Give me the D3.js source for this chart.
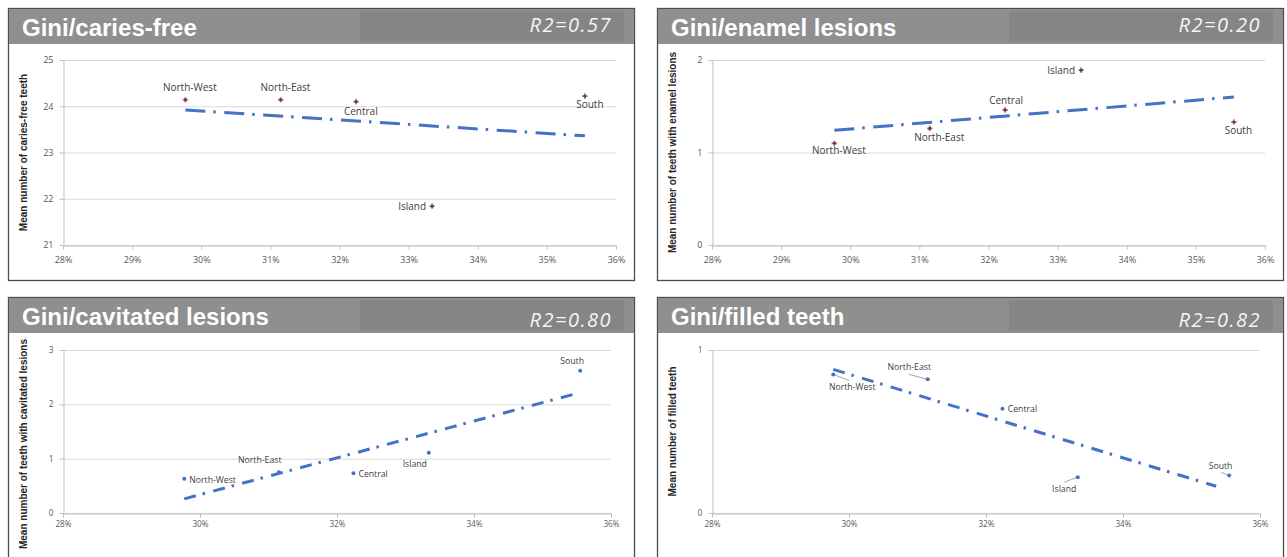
<!DOCTYPE html>
<html>
<head>
<meta charset="utf-8">
<script src="https://cdn.jsdelivr.net/npm/d3@7/dist/d3.min.js"></script>
<style>
  html, body { margin: 0; padding: 0; background: #ffffff; }
  svg { display: block; }
</style>
</head>
<body>
<svg id="chart" width="1287" height="557"></svg>
<script>
// ---------------- DATA ----------------
const regions = ["North-West", "North-East", "Central", "Island", "South"];
const gini = [29.77, 31.15, 32.24, 33.34, 35.55];            // Gini coefficient (%)
const cariesFree = [24.14, 24.14, 24.10, 21.84, 24.22];       // mean caries-free teeth
const enamelLesions = [1.10, 1.26, 1.46, 1.89, 1.33];         // mean teeth with enamel lesions
const cavitatedLesions = [0.63, 0.75, 0.73, 1.11, 2.62];      // mean teeth with cavitated lesions
const filledTeeth = [0.85, 0.82, 0.64, 0.22, 0.23];           // mean filled teeth

const titles = ["Gini/caries-free", "Gini/enamel lesions", "Gini/cavitated lesions", "Gini/filled teeth"];
const r2Labels = ["R2=0.57", "R2=0.20", "R2=0.80", "R2=0.82"];
const yTitles = ["Mean number of caries-free teeth", "Mean number of teeth with enamel lesions",
                 "Mean number of teeth with cavitated lesions", "Mean number of filled teeth"];

const xTicksTop = [28, 29, 30, 31, 32, 33, 34, 35, 36];
const xTicksBottom = [28, 30, 32, 34, 36];
const cariesTicks = [21, 22, 23, 24, 25];
const enamelTicks = [0, 1, 2];
const cavitatedTicks = [0, 1, 2, 3];
const filledTicks = [0, 1];

// linear trendline end points (x = Gini %, y = value)
const trendCariesX = [29.77, 35.55], trendCariesY = [23.92, 23.36];
const trendEnamelX = [29.77, 35.55], trendEnamelY = [1.24, 1.60];
const trendCavX = [29.77, 35.47], trendCavY = [0.26, 2.19];
const trendFilledX = [29.77, 35.36], trendFilledY = [0.881, 0.164];

// ---------------- LAYOUT / STYLE ----------------
const svg = d3.select("#chart");
const PW = 626, PH = 272;

const layTop = { x0: 55, x1: 608, y0: 52, y1: 237, tickFont: 9, labelFont: 10, tickPad: 7, dash: "20 8 2.5 8.5", r2Base: 24 };
const layBot = { x0: 55, x1: 603, y0: 53, y1: 216, tickFont: 8.2, labelFont: 8.7, tickPad: 4, dash: "12 7 2.5 8.5", r2Base: 30 };

const panels = [
  { ox: 8,   oy: 8,   L: layTop, values: cariesFree,       yTicks: cariesTicks,    xTicks: xTicksTop,    tx: trendCariesX, ty: trendCariesY, marker: "star" },
  { ox: 657, oy: 8,   L: layTop, values: enamelLesions,    yTicks: enamelTicks,    xTicks: xTicksTop,    tx: trendEnamelX, ty: trendEnamelY, marker: "star" },
  { ox: 8,   oy: 297, L: layBot, values: cavitatedLesions, yTicks: cavitatedTicks, xTicks: xTicksBottom, tx: trendCavX,    ty: trendCavY,    marker: "dot" },
  { ox: 657, oy: 297, L: layBot, values: filledTeeth,      yTicks: filledTicks,    xTicks: xTicksBottom, tx: trendFilledX, ty: trendFilledY, marker: "dot" }
];

// label placement relative to each point (px)
const labelPos = [
  [{dx:4.5,dy:-9,a:"middle"},{dx:4.7,dy:-8.3,a:"middle"},{dx:4.7,dy:13,a:"middle"},{dx:-6,dy:4,a:"end"},{dx:5,dy:12,a:"middle"}],
  [{dx:4.5,dy:10.5,a:"middle"},{dx:9.5,dy:13,a:"middle"},{dx:1,dy:-5.5,a:"middle"},{dx:-6,dy:3.5,a:"end"},{dx:4.5,dy:12.5,a:"middle"}],
  [{dx:5,dy:3.8,a:"start"},{dx:-19,dy:-9.5,a:"middle"},{dx:5,dy:3.5,a:"start"},{dx:-14,dy:14.5,a:"middle"},{dx:-8,dy:-6.7,a:"middle"}],
  [{dx:19,dy:15.7,a:"middle",lead:[16,6]},{dx:-18.5,dy:-9,a:"middle",lead:[-19,-5]},{dx:5.3,dy:3.4,a:"start"},
   {dx:-13.6,dy:15.3,a:"middle",lead:[-13.4,5]},{dx:-8.6,dy:-7,a:"middle",lead:[-8,-3.3]}]
];

panels.forEach((p, i) => {
  const L = p.L;
  const g = svg.append("g").attr("transform", `translate(${p.ox},${p.oy})`);

  // frame
  g.append("rect").attr("x", 0.5).attr("y", 0.5).attr("width", PW).attr("height", PH)
    .attr("fill", "#ffffff").attr("stroke", "#4d4d4d").attr("stroke-width", 1.3);

  // header band
  g.append("rect").attr("x", 1).attr("y", 1).attr("width", PW - 1).attr("height", 35).attr("fill", "#8f8f8f");
  g.append("rect").attr("x", 352).attr("y", 3.5).attr("width", 264).attr("height", 30).attr("fill", "#858585");
  g.append("text").attr("x", 14).attr("y", 28)
    .attr("font-family", "'Liberation Sans', Arial, sans-serif").attr("font-weight", "bold")
    .attr("font-size", 24).attr("fill", "#ffffff").text(titles[i]);
  g.append("text").attr("x", 604).attr("y", L.r2Base).attr("text-anchor", "end")
    .attr("font-family", "'Open Sans', sans-serif").attr("font-style", "italic")
    .attr("font-size", 20).attr("letter-spacing", 1.5).attr("fill", "#f4f4f4").text(r2Labels[i]);

  // scales
  const x = d3.scaleLinear().domain([28, 36]).range([L.x0, L.x1]);
  const yDom = d3.extent(p.yTicks);
  const y = d3.scaleLinear().domain(yDom).range([L.y1, L.y0]);

  // gridlines
  g.append("g").selectAll("line").data(p.yTicks).join("line")
    .attr("x1", L.x0).attr("x2", L.x1)
    .attr("y1", d => y(d) + 0.5).attr("y2", d => y(d) + 0.5)
    .attr("stroke", "#d9d9d9").attr("stroke-width", 1);

  // axes
  const xAxis = d3.axisBottom(x).tickValues(p.xTicks).tickFormat(d => d + "%")
    .tickSizeInner(4).tickSizeOuter(0).tickPadding(L.tickPad);
  const gx = g.append("g").attr("transform", `translate(0,${L.y1 + 0.5})`).call(xAxis);
  const yAxis = d3.axisLeft(y).tickValues(p.yTicks).tickFormat(d3.format("d"))
    .tickSizeInner(4).tickSizeOuter(0).tickPadding(6);
  const gy = g.append("g").attr("transform", `translate(${L.x0 + 0.5},0)`).call(yAxis);
  [gx, gy].forEach(ax => {
    ax.select(".domain").attr("stroke", "#bfbfbf");
    ax.selectAll(".tick line").attr("stroke", "#bfbfbf");
    ax.selectAll(".tick text").attr("fill", "#595959")
      .attr("font-family", "'Open Sans', sans-serif").attr("font-size", L.tickFont);
  });

  // y axis title
  const yt = g.append("text")
    .attr("font-family", "'Liberation Sans', Arial, sans-serif").attr("font-weight", "bold")
    .attr("font-size", 10).attr("fill", "#262626").attr("text-anchor", "middle")
    .text(yTitles[i]);
  const len = yt.node().getComputedTextLength();
  let cy = (L.y0 + L.y1) / 2;
  if (cy - len / 2 < 42) cy = 42 + len / 2;
  yt.attr("transform", `translate(18.5,${cy}) rotate(-90)`);

  // trendline
  const trend = p.tx.map((v, k) => [v, p.ty[k]]);
  g.append("path").datum(trend)
    .attr("d", d3.line().x(d => x(d[0])).y(d => y(d[1])))
    .attr("fill", "none").attr("stroke", "#4472c4").attr("stroke-width", 3)
    .attr("stroke-dasharray", L.dash);

  // points
  const pts = gini.map((gv, k) => ({ name: regions[k], gx: gv, v: p.values[k], lp: labelPos[i][k] }));

  // leader lines
  g.append("g").selectAll("line").data(pts.filter(d => d.lp.lead)).join("line")
    .attr("x1", d => x(d.gx)).attr("y1", d => y(d.v))
    .attr("x2", d => x(d.gx) + d.lp.lead[0]).attr("y2", d => y(d.v) + d.lp.lead[1])
    .attr("stroke", "#a6a6a6").attr("stroke-width", 1);

  const mg = g.append("g");
  if (p.marker === "star") {
    mg.selectAll("path").data(pts).join("path")
      .attr("transform", d => `translate(${x(d.gx)},${y(d.v)})`)
      .attr("d", d3.symbol(d3.symbolCross).size(18))
      .attr("fill", "#b595a8");
    mg.selectAll("circle").data(pts).join("circle")
      .attr("cx", d => x(d.gx)).attr("cy", d => y(d.v)).attr("r", 1.6)
      .attr("fill", "#6f2f52");
  } else {
    mg.selectAll("circle").data(pts).join("circle")
      .attr("cx", d => x(d.gx)).attr("cy", d => y(d.v)).attr("r", 2)
      .attr("fill", "#4472c4");
  }

  // data labels
  g.append("g").selectAll("text").data(pts).join("text")
    .attr("x", d => x(d.gx) + d.lp.dx).attr("y", d => y(d.v) + d.lp.dy)
    .attr("text-anchor", d => d.lp.a)
    .attr("font-family", "'Open Sans', sans-serif").attr("font-size", L.labelFont)
    .attr("fill", "#404040").text(d => d.name);
});
</script>
</body>
</html>
